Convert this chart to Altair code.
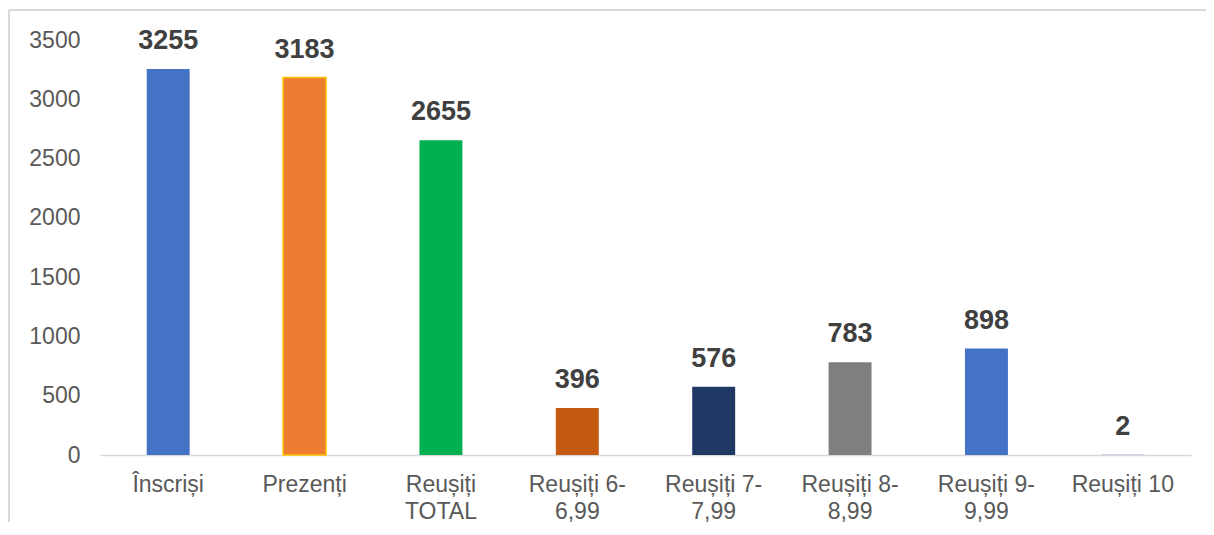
import altair as alt
import pandas as pd

categories = ["Înscriși", "Prezenți", "Reușiți|TOTAL", "Reușiți 6-|6,99",
              "Reușiți 7-|7,99", "Reușiți 8-|8,99", "Reușiți 9-|9,99", "Reușiți 10"]
values = [3255, 3183, 2655, 396, 576, 783, 898, 2]
colors = ["#4472C4", "#ED7D31", "#00B050", "#C55A11", "#203864", "#7F7F7F", "#4472C4", "#4472C4"]
strokes = ["#4472C4", "#FFC000", "#00B050", "#C55A11", "#203864", "#7F7F7F", "#4472C4", "#4472C4"]
stroke_widths = [0, 1.5, 0, 0, 0, 0, 0, 0]
y_ticks = [0, 500, 1000, 1500, 2000, 2500, 3000, 3500]

df = pd.DataFrame({"cat": categories, "val": values, "color": colors,
                   "stroke": strokes, "sw": stroke_widths})

FONT = "Liberation Sans"

x = alt.X("cat:N", sort=categories, title=None,
          scale=alt.Scale(paddingInner=0.685, paddingOuter=0.3425),
          axis=alt.Axis(labelAngle=0, labelExpr="split(datum.label, '|')",
                        labelFont=FONT, labelFontSize=23, labelColor="#595959",
                        labelPadding=18, labelLineHeight=27, labelBaseline="top",
                        ticks=False, domainColor="#d9d9d9", domainWidth=1.5,
                        labelLimit=300))
y = alt.Y("val:Q", title=None,
          scale=alt.Scale(domain=[0, 3500], nice=False),
          axis=alt.Axis(values=y_ticks, grid=False, domain=False, ticks=False,
                        format="d",
                        labelFont=FONT, labelFontSize=23, labelColor="#595959",
                        labelPadding=20))

bars = alt.Chart(df).mark_bar().encode(
    x=x, y=y,
    color=alt.Color("color:N", scale=None),
    stroke=alt.Stroke("stroke:N", scale=None),
    strokeWidth=alt.StrokeWidth("sw:Q", scale=None),
)

text = alt.Chart(df).mark_text(baseline="bottom", dy=-14, font=FONT, fontSize=27,
                               fontWeight="bold", color="#404040").encode(
    x=alt.X("cat:N", sort=categories), y="val:Q", text="val:Q")

frame_top = alt.Chart(pd.DataFrame({"a": [0]})).mark_rule(
    stroke="#d9d9d9", strokeWidth=2).encode(
    x=alt.value(-91), x2=alt.value(1110), y=alt.value(-30))
frame_left = alt.Chart(pd.DataFrame({"a": [0]})).mark_rule(
    stroke="#d9d9d9", strokeWidth=2).encode(
    x=alt.value(-91), y=alt.value(-30), y2=alt.value(490))

chart = alt.layer(frame_top, frame_left, bars, text).properties(
    width=1091, height=415,
    autosize=alt.AutoSizeParams(type="none"),
    padding={"left": 92, "top": 32, "right": 15, "bottom": 67},
).configure(background="white").configure_view(stroke=None, strokeWidth=0)

chart.save("out.html", embed_options={"renderer": "svg", "actions": False})
